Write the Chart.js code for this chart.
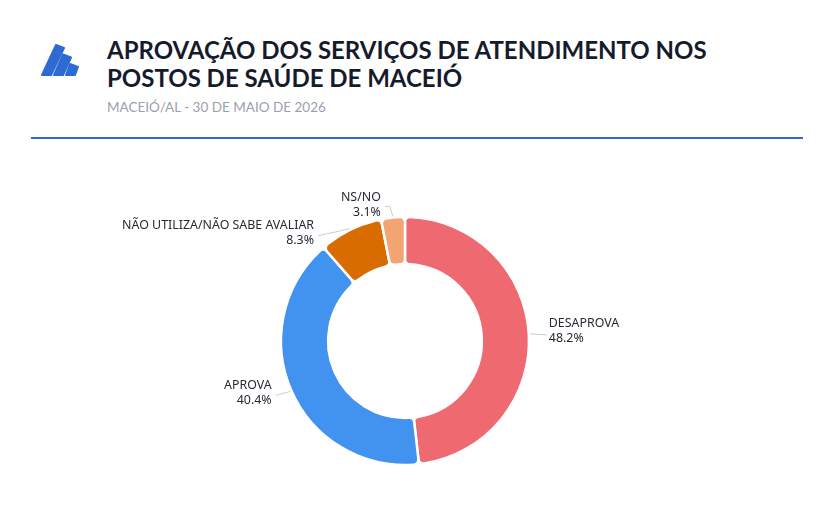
<!DOCTYPE html>
<html><head><meta charset="utf-8">
<script src="https://cdn.jsdelivr.net/npm/chart.js@4.4.1/dist/chart.umd.min.js"></script>
<style>
html,body{margin:0;padding:0;background:#fff;width:840px;height:520px;overflow:hidden;position:relative;}
#title{position:absolute;left:107px;top:36px;font-family:Lato,sans-serif;font-weight:700;font-size:24px;line-height:28px;color:#161b2c;letter-spacing:0px;}
#sub{position:absolute;left:107px;top:99px;font-family:Lato,sans-serif;font-size:13.5px;color:#9aa1ad;}
#rule{position:absolute;left:31px;top:137px;width:772px;height:2px;background:#2f6bd3;}
#logo{position:absolute;left:0;top:0;}
#c{position:absolute;left:0;top:0;}
</style></head>
<body>
<svg id="logo" width="100" height="100">
<g fill="#2d6bd2" stroke="#2d6bd2" stroke-width="2" stroke-linejoin="round">
<polygon points="42,75 51,75 64,48 56,45"/>
<polygon points="54,75 63,75 71,57.5 63,54.5"/>
<polygon points="66,75 75,75 78,67 70,64"/>
</g>
</svg>
<div id="title">APROVAÇÃO DOS SERVIÇOS DE ATENDIMENTO NOS<br>POSTOS DE SAÚDE DE MACEIÓ</div>
<div id="sub">MACEIÓ/AL - 30 DE MAIO DE 2026</div>
<div id="rule"></div>
<canvas id="c" width="840" height="520"></canvas>
<script>
const categories = ["DESAPROVA", "APROVA", "NÃO UTILIZA/NÃO SABE AVALIAR", "NS/NO"];
const values = [48.2, 40.4, 8.3, 3.1];
const colors = ["#ee6a70", "#4292f0", "#d96c00", "#f2a572"];

const labelLayout = [
  {line:[[17,1]], text:[19,-10], align:"left"},
  {line:[[-15,4]], text:[-19,-6], align:"right"},
  {line:[[-32,7]], text:[-36,-3], align:"right"},
  {line:[[-3,-10],[-8,-10]], text:[-12,-19], align:"right"}
];

const labelPlugin = {
  id:"leaderLabels",
  afterDatasetsDraw(chart){
    const ctx = chart.ctx;
    const meta = chart.getDatasetMeta(0);
    meta.data.forEach((arc,i)=>{
      const mid = (arc.startAngle+arc.endAngle)/2;
      const r = arc.outerRadius+1;
      const px = arc.x + Math.cos(mid)*r, py = arc.y + Math.sin(mid)*r;
      const L = labelLayout[i];
      ctx.save();
      ctx.strokeStyle = "#c9cdd6"; ctx.lineWidth = 1;
      ctx.beginPath(); ctx.moveTo(px,py);
      L.line.forEach(p=>ctx.lineTo(px+p[0],py+p[1]));
      ctx.stroke();
      ctx.fillStyle = "#262a33";
      ctx.font = "12.4px 'Noto Sans'";
      ctx.textAlign = L.align; ctx.textBaseline = "middle";
      const tx = px+L.text[0], ty = py+L.text[1];
      ctx.fillText(categories[i], tx, ty);
      ctx.fillText(values[i].toFixed(1)+"%", tx, ty+15);
      ctx.restore();
    });
  }
};

new Chart(document.getElementById("c"), {
  type:"doughnut",
  data:{labels:categories, datasets:[{data:values, backgroundColor:colors, borderColor:"#ffffff", borderWidth:2.5, borderRadius:5, hoverOffset:0}]},
  options:{
    responsive:false, animation:false,
    radius:124, cutout:"62%",
    layout:{padding:{left:0,right:30,top:162,bottom:0}},
    plugins:{legend:{display:false}, tooltip:{enabled:false}}
  },
  plugins:[labelPlugin]
});
</script>
</body></html>
